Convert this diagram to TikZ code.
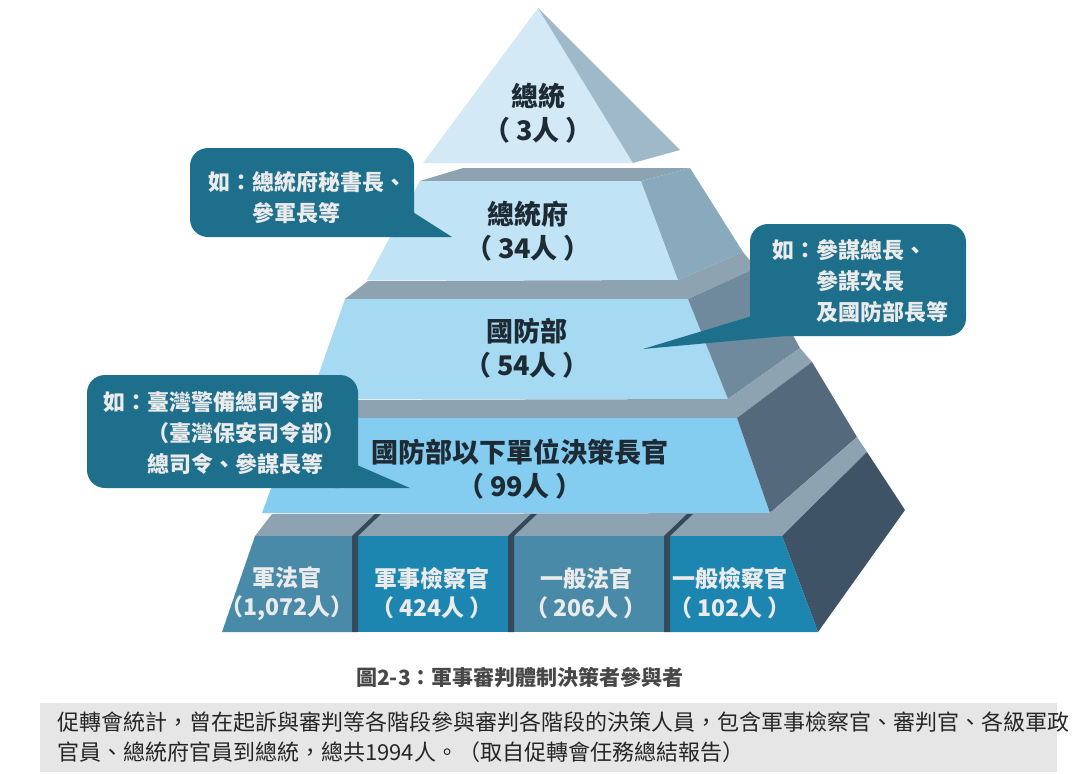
\documentclass[tikz,border=0pt]{standalone}
\usepackage{fontspec}
\usepackage{xcolor}
\usepackage{tikz}
\newfontfamily\cjk{Noto Sans CJK TC}
\newcommand\paren[1]{（\hspace{0.2em}#1\hspace{0.2em}）}
\definecolor{frontA}{HTML}{D3EAF6}
\definecolor{frontB}{HTML}{C0E4F6}
\definecolor{frontC}{HTML}{A6DAF3}
\definecolor{frontD}{HTML}{84CDF0}
\definecolor{sideA}{HTML}{A0B9C8}
\definecolor{sideB}{HTML}{89A9BD}
\definecolor{sideC}{HTML}{6E8A9C}
\definecolor{sideD}{HTML}{55697D}
\definecolor{sideE}{HTML}{3F5366}
\definecolor{ledgegray}{HTML}{8DA3B2}
\definecolor{boxgray}{HTML}{4A8AA9}
\definecolor{boxblue}{HTML}{1C86B0}
\definecolor{divider}{HTML}{34495A}
\definecolor{callblue}{HTML}{1D6F8C}
\definecolor{ink}{HTML}{1E2B35}
\definecolor{notegray}{HTML}{E6E6E6}

\begin{document}
\begin{tikzpicture}[x=1pt,y=-1pt,
 lbl/.style={font=\cjk\bfseries\fontsize{27}{34}\selectfont,text=ink,align=center,inner sep=0},
 boxlbl/.style={font=\cjk\bfseries\fontsize{23}{29}\selectfont,text=white!92!black,align=center,inner sep=0},
 note/.style={font=\cjk\bfseries\fontsize{22}{31}\selectfont,text=white!92!black,align=left,anchor=north west,inner sep=0},
 bubble/.style={fill=callblue,rounded corners=18pt}]
 \useasboundingbox (0,0) rectangle (1080,774);
 % top: 3 persons
 \fill[frontA] (538,8) -- (633,163) -- (423,163) -- cycle;
 \fill[sideA] (538,8) -- (680,150) -- (633,163) -- cycle;
 % second step
 \fill[ledgegray] (420,181) -- (463,168) -- (690,168) -- (641,181) -- cycle;
 \fill[frontB] (420,181) -- (641,181) -- (678,280) -- (367,280) -- cycle;
 \fill[sideB] (641,181) -- (690,168) -- (743,252) -- (678,280) -- cycle;
 % third step
 \fill[ledgegray] (345,299) -- (368,281) -- (678,280) -- (743,252) -- (756,268) -- (688,299) -- cycle;
 \fill[frontC] (345,299) -- (688,299) -- (728,399) -- (310,399) -- cycle;
 \fill[sideC] (688,299) -- (756,268) -- (800,348) -- (728,399) -- cycle;
 % fourth step
 \fill[ledgegray] (297,418) -- (318,400) -- (728,399) -- (800,348) -- (812,362) -- (737,418) -- cycle;
 \fill[frontD] (297,418) -- (737,418) -- (770,513) -- (262,513) -- cycle;
 \fill[sideD] (737,418) -- (812,362) -- (857,437) -- (770,513) -- cycle;
 % base: four boxes
 \fill[ledgegray] (255,536) -- (272,514) -- (770,513) -- (857,437) -- (867,452) -- (782,536) -- cycle;
 \fill[sideE] (782,536) -- (867,452) -- (905,510) -- (818,632) -- cycle;
 \fill[boxgray] (255,536) -- (352,536) -- (352,632) -- (222,632) -- cycle;
 \fill[boxblue] (358,536) rectangle (508,632);
 \fill[boxgray] (514,536) rectangle (664,632);
 \fill[boxblue] (670,536) -- (782,536) -- (818,632) -- (670,632) -- cycle;
 \foreach \dx in {352,508,664}
  \fill[divider] (\dx,632) -- (\dx,536) -- (\dx+23,514) -- (\dx+29,514) -- (\dx+6,536) -- (\dx+6,632) -- cycle;
 % labels
 \node[lbl] (pres) at (538,113.5) {總統\\\paren{3人}};
 \node[lbl] (office) at (528,231.5) {總統府\\\paren{34人}};
 \node[lbl] (mnd) at (527,348.5) {國防部\\\paren{54人}};
 \node[lbl] (units) at (520,469.5) {國防部以下單位決策長官\\\paren{99人}};
 \node[boxlbl] (judges) at (287,593.5) {軍法官\\（1,072人）};
 \node[boxlbl] (prosec) at (432,593.5) {軍事檢察官\\\paren{424人}};
 \node[boxlbl] (civjudge) at (586,593.5) {一般法官\\\paren{206人}};
 \node[boxlbl] (civpros) at (730,593.5) {一般檢察官\\\paren{102人}};
 % callouts
 \fill[bubble] (190,148) rectangle (414,237);
 \fill[callblue] (405,207) -- (452,237) -- (395,237) -- cycle;
 \node[note] (noteA) at (208,171) {如：總統府秘書長、\\\hspace*{2em}參軍長等};
 \fill[bubble] (750,224) rectangle (966,336);
 \fill[callblue] (752,316) -- (643,349) -- (785,336) -- cycle;
 \node[note] (noteB) at (772,239) {如：參謀總長、\\\hspace*{2em}參謀次長\\\hspace*{2em}及國防部長等};
 \fill[bubble] (87,375) rectangle (358,488);
 \fill[callblue] (350,462) -- (410,488) -- (335,488) -- cycle;
 \node[note] (noteC) at (103,391) {如：臺灣警備總司令部\\\hspace*{2em}（臺灣保安司令部）\\\hspace*{2em}總司令、參謀長等};
 % caption and remark
 \node[font=\cjk\bfseries\fontsize{21}{26}\selectfont,text=black!72,inner sep=0] (caption) at (520,678) {圖2-3：軍事審判體制決策者參與者};
 \fill[notegray] (40,703) rectangle (1057,772);
 \node[font=\cjk\fontsize{22}{30}\selectfont,text=black!85,align=left,anchor=north west,inner sep=0] (remark) at (57,712)
  {促轉會統計，曾在起訴與審判等各階段參與審判各階段的決策人員，包含軍事檢察官、審判官、各級軍政\\官員、總統府官員到總統，總共1994人。（取自促轉會任務總結報告）};
\end{tikzpicture}
\end{document}
